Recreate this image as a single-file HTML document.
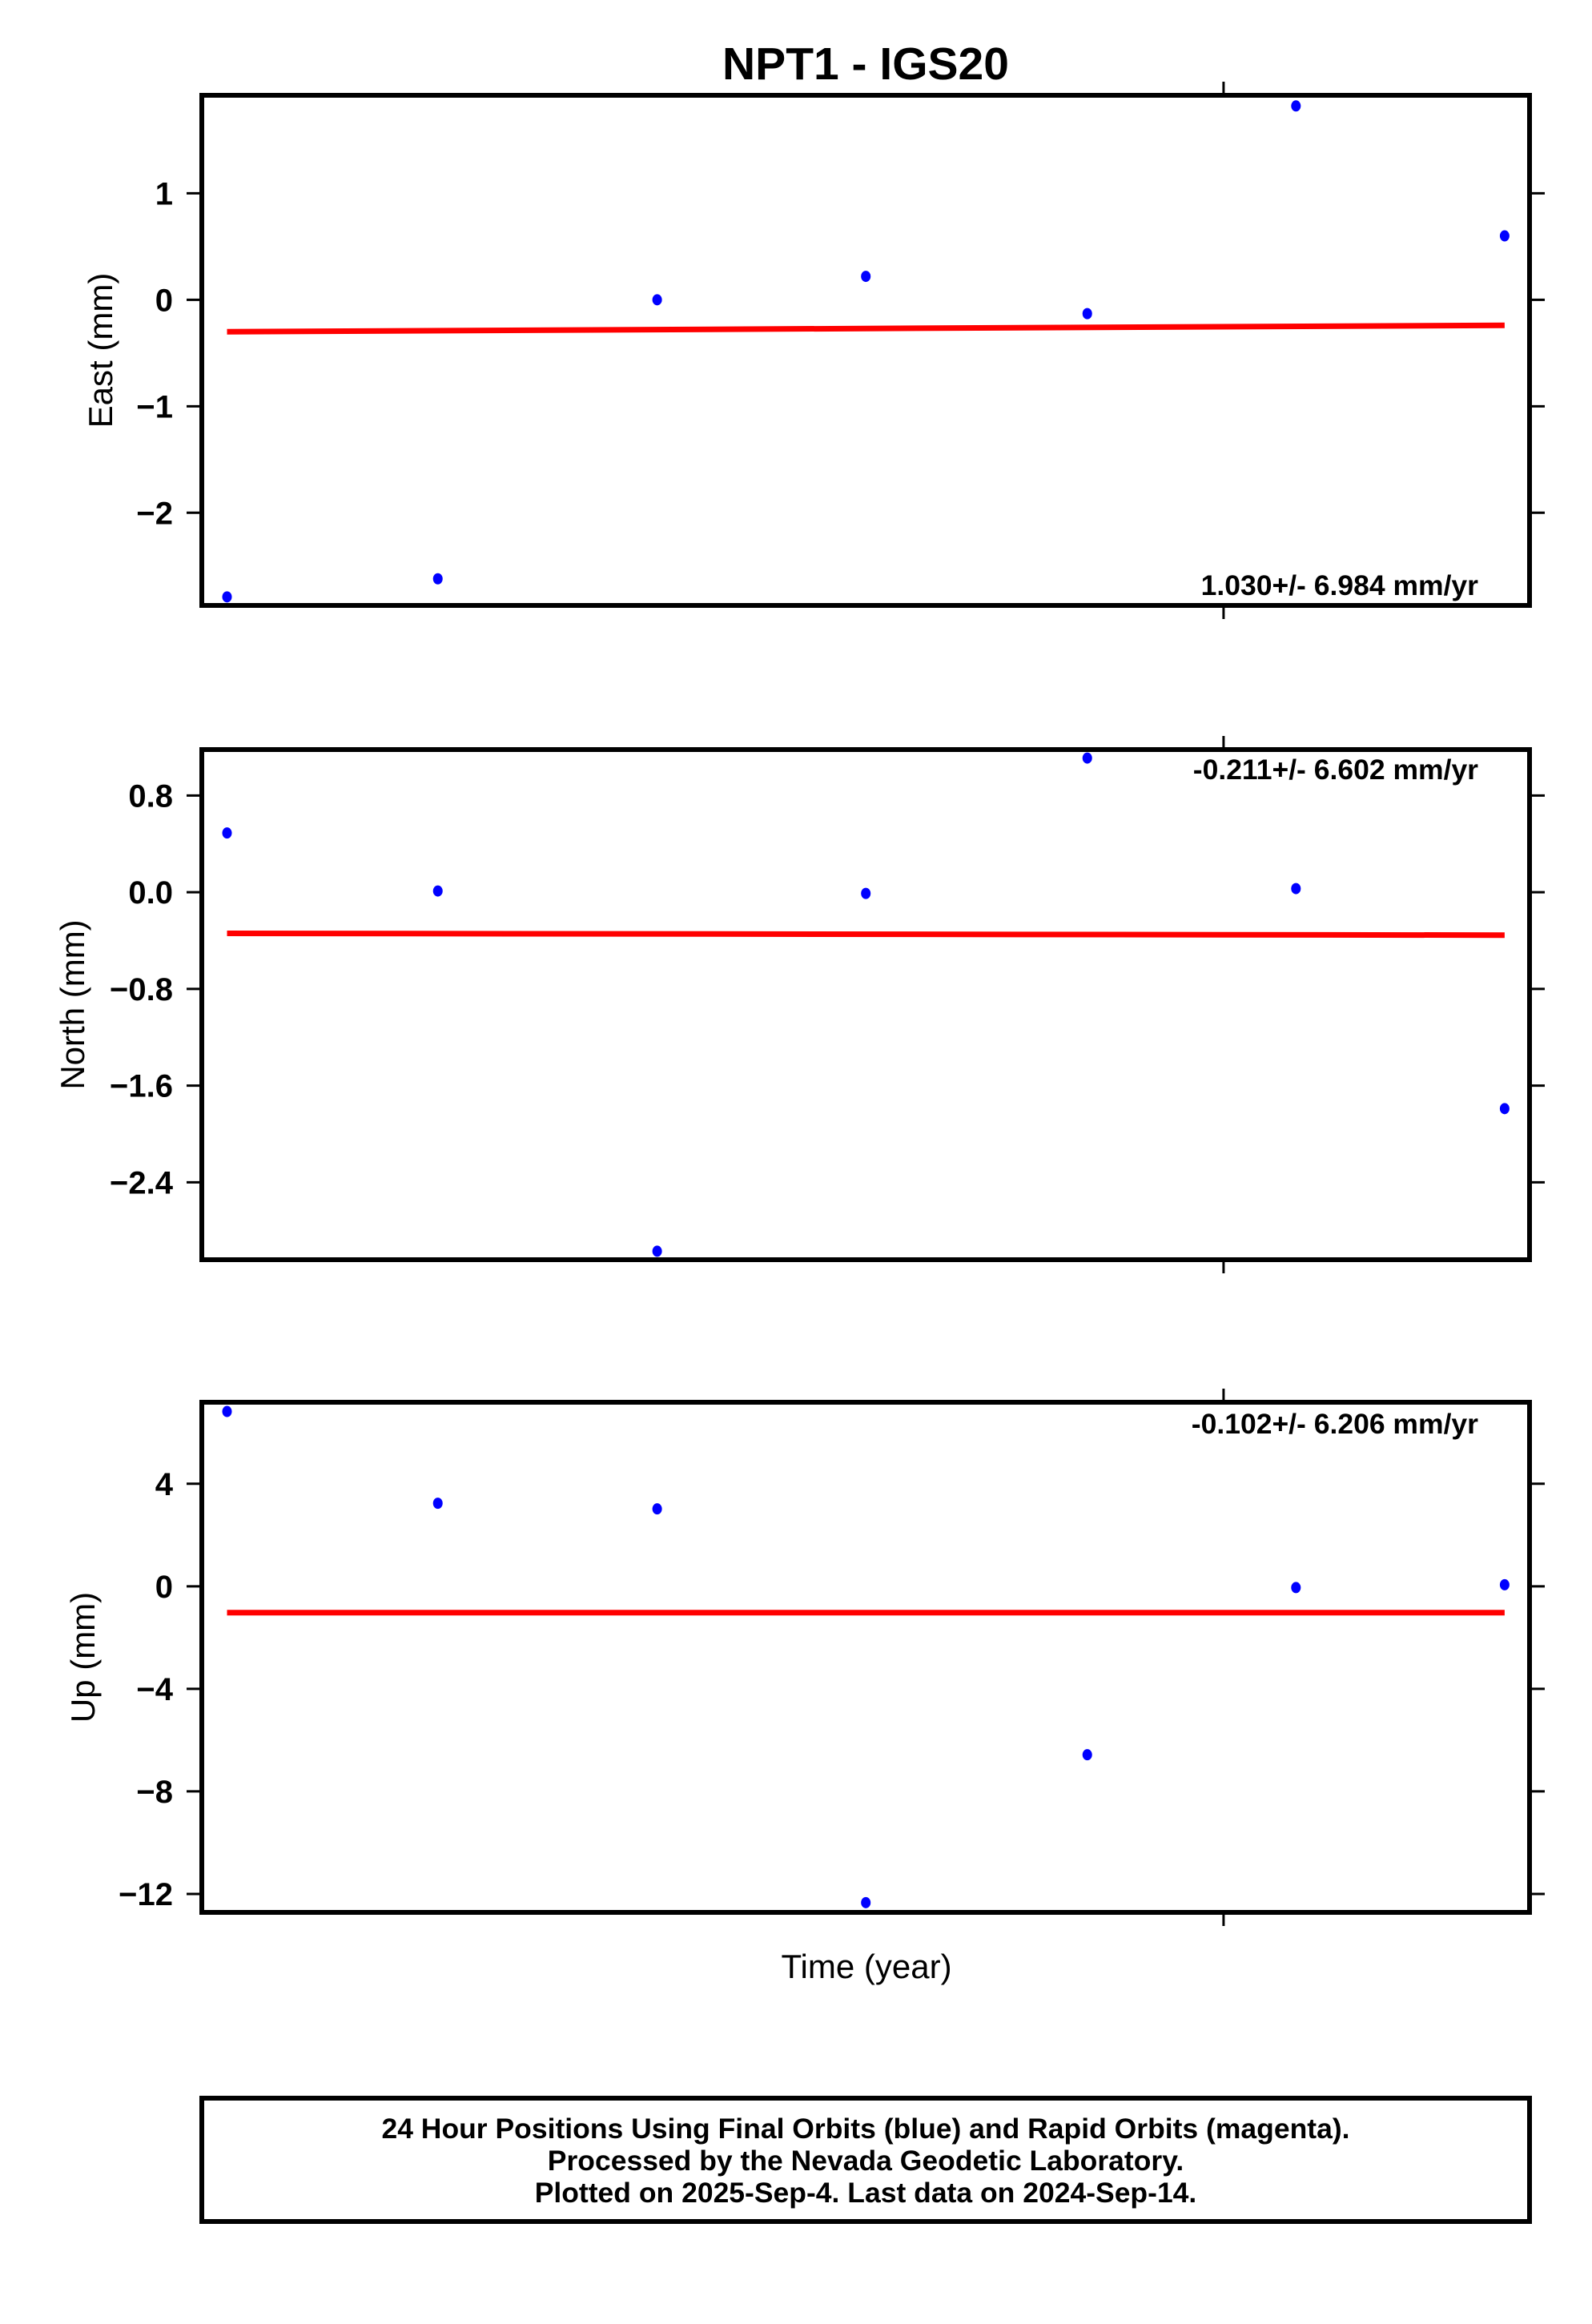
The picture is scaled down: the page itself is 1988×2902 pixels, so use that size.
<!DOCTYPE html>
<html><head><meta charset="utf-8"><style>
html,body{margin:0;padding:0;background:#fff;}
svg{display:block;font-family:"Liberation Sans",sans-serif;}
</style></head><body>
<svg id="c" width="1988" height="2902" viewBox="0 0 1988 2902">
<text x="1081" y="99" text-anchor="middle" font-size="57" font-weight="bold">NPT1 - IGS20</text>
<text x="1082" y="2470" text-anchor="middle" font-size="42">Time (year)</text>
<rect x="252" y="2620" width="1658" height="154" fill="none" stroke="#000" stroke-width="6"/>
<text x="1081" y="2670" text-anchor="middle" font-size="35.5" font-weight="bold">24 Hour Positions Using Final Orbits (blue) and Rapid Orbits (magenta).</text>
<text x="1081" y="2710" text-anchor="middle" font-size="35.5" font-weight="bold">Processed by the Nevada Geodetic Laboratory.</text>
<text x="1081" y="2750" text-anchor="middle" font-size="35.5" font-weight="bold">Plotted on 2025-Sep-4. Last data on 2024-Sep-14.</text>
</svg>
<script>
const days = [0, 0.99, 2.02, 3.0, 4.04, 5.02, 6.0];
const xTopTick = [4.68];
const eastVals = [-2.79, -2.62, 0.0, 0.22, -0.13, 1.82, 0.60];
const northVals = [0.49, 0.01, -2.97, -0.01, 1.11, 0.03, -1.79];
const upVals = [6.82, 3.24, 3.02, -12.34, -6.57, -0.05, 0.06];
const eastTrend = [-0.30, -0.24];
const northTrend = [-0.34, -0.355];
const upTrend = [-1.03, -1.03];
const eastTicks = [1, 0, -1, -2];
const eastTickLabels = ["1", "0", "\u22121", "\u22122"];
const northTicks = [0.8, 0.0, -0.8, -1.6, -2.4];
const northTickLabels = ["0.8", "0.0", "\u22120.8", "\u22121.6", "\u22122.4"];
const upTicks = [4, 0, -4, -8, -12];
const upTickLabels = ["4", "0", "\u22124", "\u22128", "\u221212"];
const eastRate = "1.030+/- 6.984 mm/yr";
const northRate = "-0.211+/- 6.602 mm/yr";
const upRate = "-0.102+/- 6.206 mm/yr";

const svg = document.getElementById('c');
const NS = 'http://www.w3.org/2000/svg';
const L = 252, R = 1910, H = 637;
const x0 = 283.5, xStep = 265.9;
function xs(d){ return x0 + d * xStep; }
function mk(tag, attrs){ const e = document.createElementNS(NS, tag); for (const k in attrs) e.setAttribute(k, attrs[k]); svg.appendChild(e); return e; }

function panel(key, top, yMin, yMax, vals, trend, ticks, tickLabels, title, titleX, rate, rateY){
  const ys = v => top + (yMax - v) / (yMax - yMin) * H;
  ticks.forEach((t, i) => {
    const y = ys(t);
    let e = mk('line', {x1: 233, x2: L, y1: y, y2: y, stroke: '#000', 'stroke-width': 3});
    
    
    e = mk('line', {x1: R, x2: R + 19, y1: y, y2: y, stroke: '#000', 'stroke-width': 3});
    
    
    e = mk('text', {x: 216, y: y + 14, 'text-anchor': 'end', 'font-size': 40, 'font-weight': 'bold'});
    e.textContent = tickLabels[i];
    
    
  });
  xTopTick.forEach(d => {
    const x = xs(d);
    let e = mk('line', {x1: x, x2: x, y1: top - 17, y2: top, stroke: '#000', 'stroke-width': 3});
    
    
    e = mk('line', {x1: x, x2: x, y1: top + H, y2: top + H + 17, stroke: '#000', 'stroke-width': 3});
    
    
  });
  let tl = mk('line', {x1: xs(days[0]), x2: xs(days[days.length - 1]), y1: ys(trend[0]), y2: ys(trend[1]), stroke: '#ff0000', 'stroke-width': 7});
  
  
  vals.forEach((v, i) => {
    const e = mk('ellipse', {cx: xs(days[i]), cy: ys(v), rx: 6, ry: 7, fill: '#0000ff'});
    
    
  });
  let b = mk('rect', {x: L, y: top, width: R - L, height: H, fill: 'none', stroke: '#000', 'stroke-width': 6});
  
  
  const cy = top + H / 2;
  let t = mk('text', {x: titleX, y: cy, 'text-anchor': 'middle', 'font-size': 42, transform: 'rotate(-90 ' + titleX + ' ' + cy + ')'});
  t.textContent = title;
  
  
  let r = mk('text', {x: 1846, y: rateY, 'text-anchor': 'end', 'font-size': 35.5, 'font-weight': 'bold'});
  r.textContent = rate;
  
  
}

panel('east', 119, -2.87, 1.92, eastVals, eastTrend, eastTicks, eastTickLabels, 'East (mm)', 140, eastRate, 743);
panel('north', 936, -3.04, 1.18, northVals, northTrend, northTicks, northTickLabels, 'North (mm)', 105, northRate, 973);
panel('up', 1751, -12.72, 7.18, upVals, upTrend, upTicks, upTickLabels, 'Up (mm)', 118, upRate, 1790);
</script>
</body></html>
